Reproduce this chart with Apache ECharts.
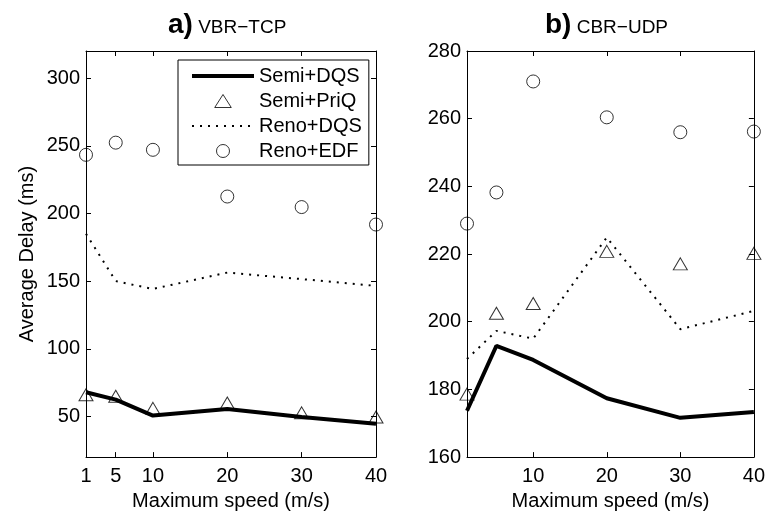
<!DOCTYPE html>
<html>
<head>
<meta charset="utf-8">
<script src="https://cdn.jsdelivr.net/npm/echarts@6/dist/echarts.min.js"></script>
<style>
  html, body { margin: 0; padding: 0; background: #fff; }
  #chart { width: 768px; height: 516px; }
</style>
</head>
<body>
<div id="chart"></div>
<script>
  var speeds = [1, 5, 10, 20, 30, 40];

  // a) VBR-TCP
  var vbrSemiDqs = [67.9, 62.5, 50.7, 55.6, 49.6, 44.6];
  var vbrSemiPriq = [66, 65, 56, 60, 52.7, 49.6];
  var vbrRenoDqs = [185, 150, 144.2, 156.3, 151.5, 146.5];
  var vbrRenoEdf = [243.3, 252.3, 247, 212.5, 204.7, 191.8];

  // b) CBR-UDP
  var cbrSemiDqs = [173.7, 192.9, 188.7, 177.4, 171.6, 173.3];
  var cbrSemiPriq = [178.6, 202.5, 205.4, 220.8, 217.1, 220.2];
  var cbrRenoDqs = [189, 197.3, 195, 224.9, 197.8, 203.2];
  var cbrRenoEdf = [229, 238.2, 271, 260.4, 256, 256.2];

  var vbrXTicks = [1, 5, 10, 20, 30, 40];
  var cbrXTicks = [10, 20, 30, 40];
  var vbrYTicks = [50, 100, 150, 200, 250, 300];
  var cbrYTicks = [160, 180, 200, 220, 240, 260, 280];

  var font = "'Liberation Sans', Arial, Helvetica, sans-serif";
  var triPath = 'path://M7,0L14,11L0,11Z';

  function pairs(ys) {
    return speeds.map(function (x, i) { return [x, ys[i]]; });
  }

  function axis(kind, grid, pos, min, max, ticks, labels, extra) {
    var a = {
      type: 'value',
      gridIndex: grid,
      position: pos,
      min: min,
      max: max,
      splitLine: { show: false },
      axisLine: { show: true, onZero: false, lineStyle: { color: '#000', width: 1 } },
      axisTick: { show: true, inside: true, length: 5, customValues: ticks, lineStyle: { color: '#000' } },
      axisLabel: {
        show: labels,
        customValues: ticks,
        color: '#000',
        fontFamily: font,
        fontSize: 20,
        margin: kind === 'x' ? 9 : 6
      }
    };
    for (var k in extra) a[k] = extra[k];
    return a;
  }

  function nameOpts(name, gap) {
    return {
      name: name,
      nameLocation: 'middle',
      nameGap: gap,
      nameTextStyle: { color: '#000', fontFamily: font, fontSize: 20 }
    };
  }

  function lineSeries(name, xi, yi, data, dotted) {
    return {
      name: name,
      type: 'line',
      xAxisIndex: xi,
      yAxisIndex: yi,
      data: pairs(data),
      symbol: 'circle',
      showSymbol: false,
      silent: true,
      lineStyle: dotted ?
        { color: '#000', width: 2, type: [2, 6] } :
        { color: '#000', width: 4 },
      // invisible so the legend shows only the line
      itemStyle: { color: 'rgba(0,0,0,0)', borderColor: 'rgba(0,0,0,0)', borderWidth: 0 }
    };
  }

  function markSeries(name, xi, yi, data, symbol, size) {
    return {
      name: name,
      type: 'scatter',
      xAxisIndex: xi,
      yAxisIndex: yi,
      data: pairs(data),
      symbol: symbol,
      symbolSize: size,
      clip: false,
      silent: true,
      itemStyle: { color: 'rgba(255,255,255,0)', borderColor: '#000', borderWidth: 1 }
    };
  }

  function titleRich() {
    return {
      fontWeight: 'normal',
      rich: {
        a: { fontFamily: font, fontSize: 28, fontWeight: 'bold', color: '#000', verticalAlign: 'bottom' },
        b: { fontFamily: font, fontSize: 19, fontWeight: 'normal', color: '#000', verticalAlign: 'bottom', padding: [0, 0, 2, 0] }
      }
    };
  }

  var option = {
    animation: false,
    backgroundColor: '#fff',
    title: [
      { text: '{a|a)}{b| VBR−TCP}', left: 163, top: 6, textStyle: titleRich() },
      { text: '{a|b)}{b| CBR−UDP}', left: 540, top: 6, textStyle: titleRich() }
    ],
    legend: {
      data: [
        { name: 'Semi+DQS', lineStyle: { width: 4 } },
        { name: 'Semi+PriQ', icon: triPath, itemStyle: { borderWidth: 1 } },
        { name: 'Reno+DQS', lineStyle: { width: 2 } },
        { name: 'Reno+EDF', icon: 'circle', itemStyle: { borderWidth: 1 } }
      ],
      orient: 'vertical',
      left: 178,
      top: 60,
      itemWidth: 62,
      itemHeight: 13,
      itemGap: 5,
      symbolKeepAspect: true,
      padding: [6, 7, 4, 12],
      borderColor: '#000',
      borderWidth: 1,
      backgroundColor: '#fff',
      selectedMode: false,
      textStyle: { color: '#000', fontFamily: font, fontSize: 20 }
    },
    grid: [
      { left: 86, right: 392, top: 51, bottom: 58 },
      { left: 467, right: 11, top: 51, bottom: 58 }
    ],
    xAxis: [
      axis('x', 0, 'bottom', 1, 40, vbrXTicks, true, nameOpts('Maximum speed (m/s)', 31)),
      axis('x', 0, 'top', 1, 40, vbrXTicks, false, {}),
      axis('x', 1, 'bottom', 1, 40, cbrXTicks, true, nameOpts('Maximum speed (m/s)', 31)),
      axis('x', 1, 'top', 1, 40, cbrXTicks, false, {})
    ],
    yAxis: [
      axis('y', 0, 'left', 20, 320, vbrYTicks, true, nameOpts('Average Delay (ms)', 49)),
      axis('y', 0, 'right', 20, 320, vbrYTicks, false, {}),
      axis('y', 1, 'left', 160, 280, cbrYTicks, true, {}),
      axis('y', 1, 'right', 160, 280, cbrYTicks, false, {})
    ],
    series: [
      lineSeries('Reno+DQS', 0, 0, vbrRenoDqs, true),
      lineSeries('Semi+DQS', 0, 0, vbrSemiDqs, false),
      markSeries('Semi+PriQ', 0, 0, vbrSemiPriq, 'triangle', [14, 12]),
      markSeries('Reno+EDF', 0, 0, vbrRenoEdf, 'circle', 13),

      lineSeries('Reno+DQS', 2, 2, cbrRenoDqs, true),
      lineSeries('Semi+DQS', 2, 2, cbrSemiDqs, false),
      markSeries('Semi+PriQ', 2, 2, cbrSemiPriq, 'triangle', [14, 12]),
      markSeries('Reno+EDF', 2, 2, cbrRenoEdf, 'circle', 13)
    ]
  };

  var myChart = echarts.init(document.getElementById('chart'), null, { renderer: 'canvas' });
  myChart.setOption(option);
</script>
</body>
</html>
